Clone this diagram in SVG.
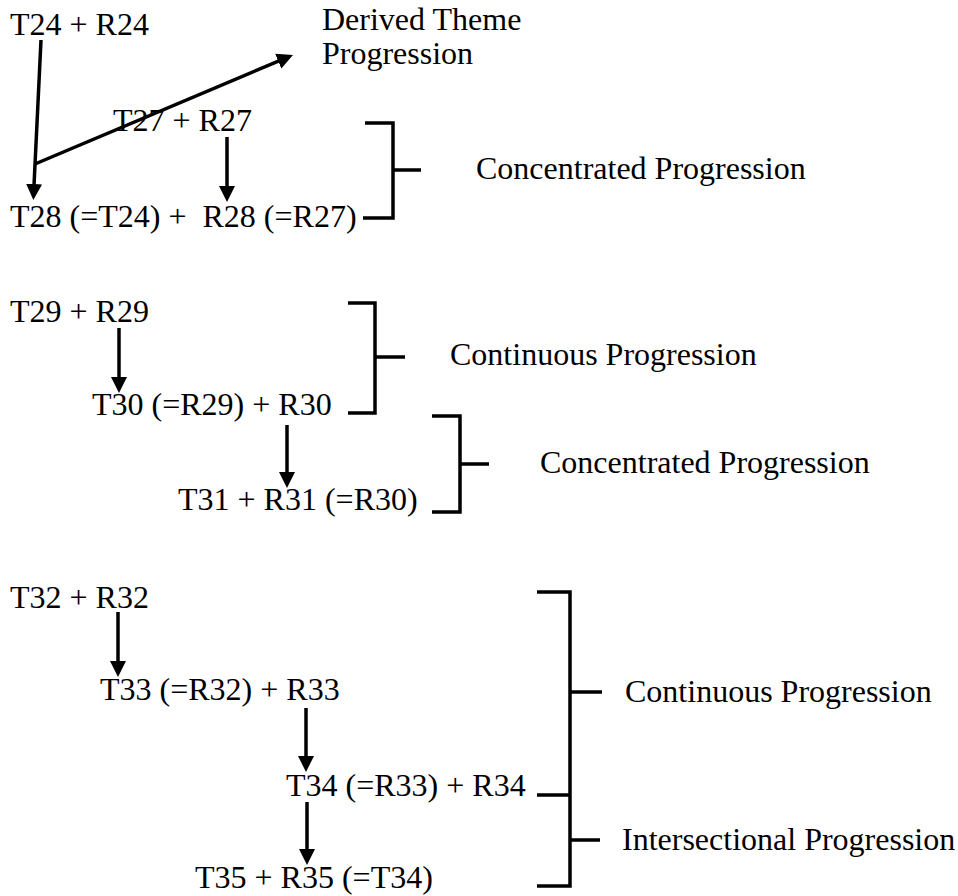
<svg xmlns="http://www.w3.org/2000/svg" width="958" height="896" viewBox="0 0 958 896">
  <style>
    text { font-family: "Liberation Serif", "Times New Roman", serif; font-size: 32px; fill: #000; white-space: pre; }
    .conn { stroke: #000; stroke-width: 3.5; fill: none; marker-end: url(#head); }
    .brace { stroke: #000; stroke-width: 3.5; fill: none; stroke-linecap: butt; stroke-linejoin: miter; }
  </style>
  <defs>
    <marker id="head" markerUnits="userSpaceOnUse" markerWidth="16" markerHeight="16" refX="8" refY="8" orient="auto" viewBox="0 0 16 16">
      <path d="M0,0 L16,8 L0,16 Z" fill="#000"/>
    </marker>
  </defs>

  <rect width="958" height="896" fill="#fff"/>

  <!-- theme / rheme units -->
  <g id="n-t24"><text x="10" y="35">T24 + R24</text></g>
  <g id="n-derived"><text x="322" y="30">Derived Theme</text><text x="322" y="64">Progression</text></g>
  <g id="n-t27"><text x="113" y="131">T27 + R27</text></g>
  <g id="n-t28"><text x="10" y="227">T28 (=T24) +  R28 (=R27)</text></g>
  <g id="n-conc1"><text x="476" y="179">Concentrated Progression</text></g>

  <g id="n-t29"><text x="10" y="322">T29 + R29</text></g>
  <g id="n-t30"><text x="92" y="415">T30 (=R29) + R30</text></g>
  <g id="n-t31"><text x="178" y="510">T31 + R31 (=R30)</text></g>
  <g id="n-cont1"><text x="450" y="365">Continuous Progression</text></g>
  <g id="n-conc2"><text x="540" y="473">Concentrated Progression</text></g>

  <g id="n-t32"><text x="10" y="608">T32 + R32</text></g>
  <g id="n-t33"><text x="100" y="700">T33 (=R32) + R33</text></g>
  <g id="n-t34"><text x="286" y="796">T34 (=R33) + R34</text></g>
  <g id="n-t35"><text x="195" y="888">T35 + R35 (=T34)</text></g>
  <g id="n-cont2"><text x="625" y="702">Continuous Progression</text></g>
  <g id="n-inter"><text x="622" y="850">Intersectional Progression</text></g>

  <!-- grouping brackets -->
  <g id="brackets">
    <path class="brace" d="M365,123 H393 V218 H363 M393,170 H421"/>
    <path class="brace" d="M348,303 H375 V413 H348 M375,357 H405"/>
    <path class="brace" d="M432,416 H460 V512 H432 M460,464 H489"/>
    <path class="brace" d="M537,592 H570 V886 H537 M570,692 H602 M537,795 H570 M570,840 H600"/>
  </g>

  <!-- progression arrows -->
  <g id="connectors">
    <line class="conn" x1="41" y1="40" x2="33.7" y2="192"/>
    <line class="conn" x1="35" y1="164" x2="285.6" y2="58.1"/>
    <line class="conn" x1="227" y1="137" x2="227" y2="194"/>
    <line class="conn" x1="119" y1="328" x2="119" y2="385"/>
    <line class="conn" x1="287" y1="425" x2="287" y2="480"/>
    <line class="conn" x1="118" y1="612" x2="118" y2="669"/>
    <line class="conn" x1="306" y1="708" x2="306" y2="764"/>
    <line class="conn" x1="307" y1="802" x2="307" y2="857"/>
  </g>
</svg>
